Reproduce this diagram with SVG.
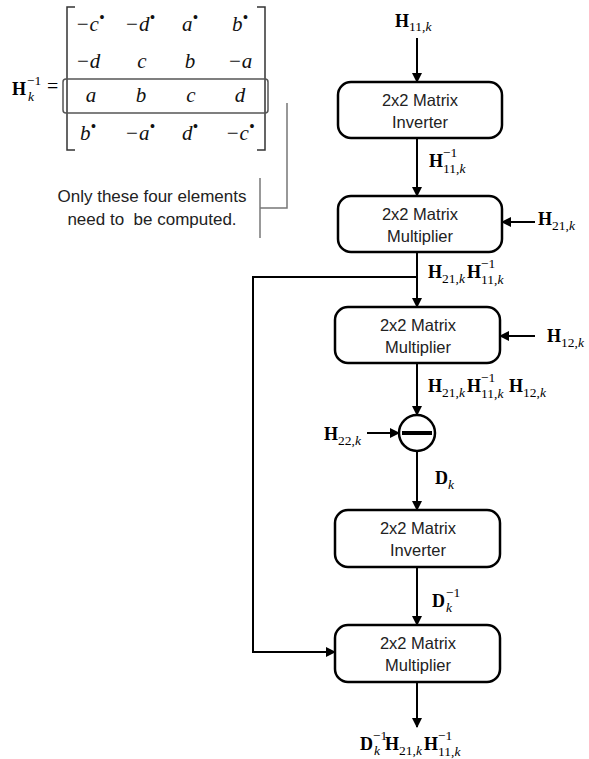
<svg xmlns="http://www.w3.org/2000/svg" width="589" height="759" viewBox="0 0 589 759">
<style>
.box{fill:#fff;stroke:#000;stroke-width:2.5}
.bt{font-family:"Liberation Sans",Arial,sans-serif;font-size:16.5px;fill:#222;text-anchor:middle}
.nt{font-family:"Liberation Sans",Arial,sans-serif;font-size:17px;fill:#222;text-anchor:middle}
.ln{stroke:#000;stroke-width:2;fill:none}
.m{font-family:"Liberation Serif","Times New Roman",serif;fill:#000}
.H{font-weight:bold;font-size:18px}
.s{font-size:13.5px}
.i{font-style:italic}
.mx{font-family:"Liberation Serif","Times New Roman",serif;font-style:italic;font-size:21px;fill:#111;text-anchor:middle}
.b{font-size:16px}
.gr{stroke:#777;stroke-width:1.5;fill:none}
.br{stroke:#333;stroke-width:1.5;fill:none}
</style>
<defs>
<marker id="ar" markerWidth="10" markerHeight="10" refX="9" refY="5" orient="auto" markerUnits="userSpaceOnUse">
<path d="M0,0 L10,5 L0,10 z" fill="#000"/>
</marker>
</defs>

<g id="matrix">
<text class="m H" x="12" y="95">H</text>
<text class="m s" x="27" y="85">−1</text>
<text class="m s i" x="28" y="101">k</text>
<text class="m" x="47" y="93" font-size="20">=</text>
<path class="br" d="M75,7 H67 V150 H75"/>
<path class="br" d="M257,7 H265 V150 H257"/>
<rect x="63" y="79" width="205" height="34" rx="3" fill="none" stroke="#555" stroke-width="1.5"/>
<text class="mx" x="90" y="31">−c<tspan class="b" dy="-8">•</tspan></text>
<text class="mx" x="140" y="31">−d<tspan class="b" dy="-8">•</tspan></text>
<text class="mx" x="190" y="31">a<tspan class="b" dy="-8">•</tspan></text>
<text class="mx" x="240" y="31">b<tspan class="b" dy="-8">•</tspan></text>
<text class="mx" x="88" y="68">−d</text>
<text class="mx" x="142" y="68">c</text>
<text class="mx" x="190" y="68">b</text>
<text class="mx" x="240" y="68">−a</text>
<text class="mx" x="91" y="102">a</text>
<text class="mx" x="141" y="102">b</text>
<text class="mx" x="191" y="102">c</text>
<text class="mx" x="240" y="102">d</text>
<text class="mx" x="88" y="140">b<tspan class="b" dy="-8">•</tspan></text>
<text class="mx" x="140" y="140">−a<tspan class="b" dy="-8">•</tspan></text>
<text class="mx" x="190" y="140">d<tspan class="b" dy="-8">•</tspan></text>
<text class="mx" x="240" y="140">−c<tspan class="b" dy="-8">•</tspan></text>
</g>

<g id="note">
<path class="gr" d="M287,103 V208 H260"/>
<path class="gr" d="M260,178 V238"/>
<text class="nt" x="152" y="202">Only these four elements</text>
<text class="nt" x="152" y="225" xml:space="preserve">need to  be computed.</text>
</g>

<g id="connectors">
<line class="ln" x1="417" y1="38" x2="417" y2="82" marker-end="url(#ar)"/>
<line class="ln" x1="417" y1="138" x2="417" y2="196" marker-end="url(#ar)"/>
<line class="ln" x1="535" y1="222" x2="502" y2="222" marker-end="url(#ar)"/>
<line class="ln" x1="417" y1="252" x2="417" y2="307" marker-end="url(#ar)"/>
<line class="ln" x1="535" y1="336" x2="500" y2="336" marker-end="url(#ar)"/>
<line class="ln" x1="417" y1="363" x2="417" y2="415" marker-end="url(#ar)"/>
<line class="ln" x1="367" y1="433" x2="399" y2="433" marker-end="url(#ar)"/>
<line class="ln" x1="417" y1="451" x2="417" y2="510" marker-end="url(#ar)"/>
<line class="ln" x1="417" y1="567" x2="417" y2="625" marker-end="url(#ar)"/>
<line class="ln" x1="417" y1="682" x2="417" y2="727" marker-end="url(#ar)"/>
<polyline class="ln" points="417,277 253,277 253,652 335,652" marker-end="url(#ar)"/>
</g>

<g id="inv1">
<rect class="box" x="338" y="82" width="164" height="56" rx="13"/>
<text class="bt" x="420" y="106">2x2 Matrix</text>
<text class="bt" x="420" y="128">Inverter</text>
</g>
<g id="mul1">
<rect class="box" x="338" y="196" width="164" height="56" rx="13"/>
<text class="bt" x="420" y="220">2x2 Matrix</text>
<text class="bt" x="420" y="242">Multiplier</text>
</g>
<g id="mul2">
<rect class="box" x="335" y="307" width="165" height="56" rx="13"/>
<text class="bt" x="418" y="331">2x2 Matrix</text>
<text class="bt" x="418" y="353">Multiplier</text>
</g>
<g id="sub">
<circle cx="417" cy="433" r="18" fill="#fff" stroke="#000" stroke-width="2.5"/>
<line x1="402" y1="433" x2="432" y2="433" stroke="#000" stroke-width="4"/>
</g>
<g id="inv2">
<rect class="box" x="335" y="510" width="165" height="57" rx="13"/>
<text class="bt" x="418" y="534">2x2 Matrix</text>
<text class="bt" x="418" y="556">Inverter</text>
</g>
<g id="mul3">
<rect class="box" x="335" y="625" width="165" height="57" rx="13"/>
<text class="bt" x="418" y="649">2x2 Matrix</text>
<text class="bt" x="418" y="671">Multiplier</text>
</g>

<g id="labels">
<text class="m H" x="395" y="27">H</text>
<text class="m s" x="409" y="31">11,<tspan class="i">k</tspan></text>

<text class="m H" x="429" y="167">H</text>
<text class="m s" x="443" y="157">−1</text>
<text class="m s" x="443" y="173">11,<tspan class="i">k</tspan></text>

<text class="m H" x="538" y="225">H</text>
<text class="m s" x="552" y="230">21,<tspan class="i">k</tspan></text>

<text class="m H" x="428" y="278">H</text>
<text class="m s" x="442" y="283">21,<tspan class="i">k</tspan></text>
<text class="m H" x="467" y="278">H</text>
<text class="m s" x="481" y="268">−1</text>
<text class="m s" x="481" y="284">11,<tspan class="i">k</tspan></text>

<text class="m H" x="547" y="342">H</text>
<text class="m s" x="561" y="347">12,<tspan class="i">k</tspan></text>

<text class="m H" x="428" y="392">H</text>
<text class="m s" x="442" y="397">21,<tspan class="i">k</tspan></text>
<text class="m H" x="467" y="392">H</text>
<text class="m s" x="481" y="382">−1</text>
<text class="m s" x="481" y="398">11,<tspan class="i">k</tspan></text>
<text class="m H" x="509" y="392">H</text>
<text class="m s" x="523" y="397">12,<tspan class="i">k</tspan></text>

<text class="m H" x="324" y="440">H</text>
<text class="m s" x="338" y="445">22,<tspan class="i">k</tspan></text>

<text class="m H" x="435" y="484">D</text>
<text class="m s i" x="448" y="489">k</text>

<text class="m H" x="432" y="607">D</text>
<text class="m s" x="446" y="597">−1</text>
<text class="m s i" x="446" y="612">k</text>

<text class="m H" x="360" y="750">D</text>
<text class="m s" x="373" y="740">−1</text>
<text class="m s i" x="374" y="755">k</text>
<text class="m H" x="385" y="750">H</text>
<text class="m s" x="399" y="755">21,<tspan class="i">k</tspan></text>
<text class="m H" x="424" y="750">H</text>
<text class="m s" x="438" y="740">−1</text>
<text class="m s" x="438" y="756">11,<tspan class="i">k</tspan></text>
</g>
</svg>
